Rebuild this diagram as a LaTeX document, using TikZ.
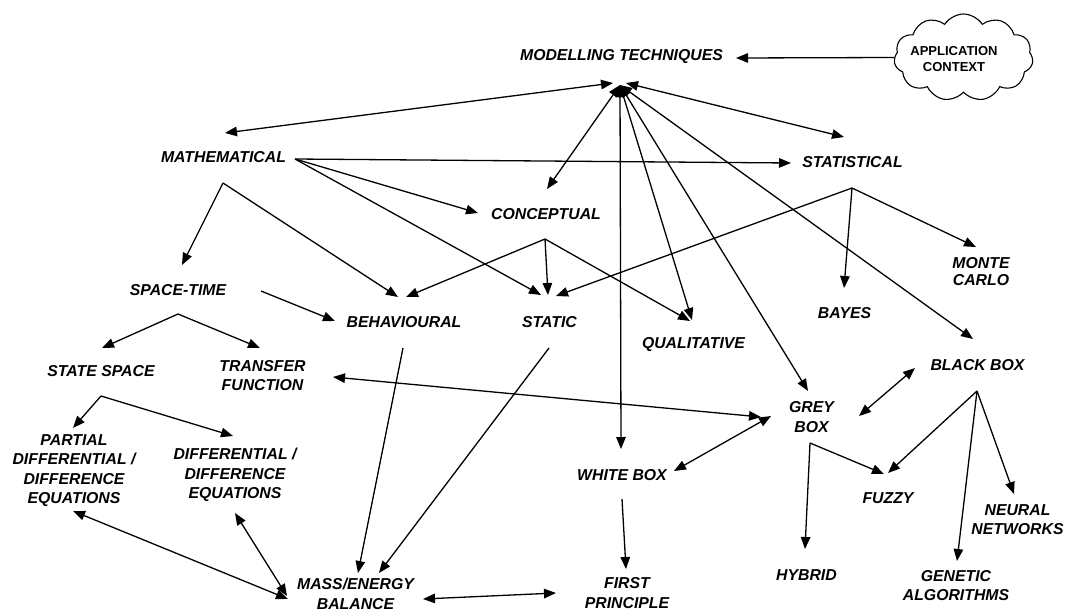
\documentclass[tikz,border=0pt]{standalone}
\usepackage{fontspec}
\setmainfont{Liberation Sans}
\usetikzlibrary{arrows.meta,shapes.symbols}

\begin{document}
\begin{tikzpicture}[x=1pt,y=-1pt,
  lbl/.style={font=\fontsize{15.8}{19.5}\selectfont\bfseries\itshape, align=center, inner sep=0pt},
  tip/.tip={Triangle[length=12pt,width=9.5pt]},
  conn/.style={line width=1.3pt, -tip},
  biconn/.style={line width=1.3pt, tip-tip}]
\useasboundingbox (0,0) rectangle (1067,613);

% ---- labels ----
\node[lbl] (mt) at (621.5,57) {MODELLING TECHNIQUES};
\node[cloud, draw, line width=1.1pt, cloud puffs=11, cloud puff arc=115,
      cloud ignores aspect, minimum width=139pt, minimum height=87pt,
      inner sep=0pt] (cloud) at (963.5,57.5) {};
\node[font=\fontsize{13}{16}\selectfont\bfseries, align=center, inner sep=0pt]
      (app) at (954,59) {APPLICATION\\CONTEXT};
\node[lbl] (math) at (223.5,157.5) {MATHEMATICAL};
\node[lbl] (stat) at (852.5,162.5) {STATISTICAL};
\node[lbl] (conc) at (546,214) {CONCEPTUAL};
\node[lbl, font=\fontsize{15.8}{17.5}\selectfont\bfseries\itshape] (monte) at (981,271.5) {MONTE\\CARLO};
\node[lbl] (space) at (178,290) {SPACE-TIME};
\node[lbl] (behav) at (404,322.5) {BEHAVIOURAL};
\node[lbl] (static) at (549.5,322.5) {STATIC};
\node[lbl] (bayes) at (844.5,313.5) {BAYES};
\node[lbl] (qual) at (693.5,345) {QUALITATIVE};
\node[lbl] (black) at (977.5,365) {BLACK BOX};
\node[lbl] (sspace) at (101,371.5) {STATE SPACE};
\node[lbl] (tf) at (262.5,375.5) {TRANSFER\\FUNCTION};
\node[lbl] (grey) at (811.5,417) {GREY\\BOX};
\node[lbl] (pde) at (74,470.5) {PARTIAL\\DIFFERENTIAL /\\DIFFERENCE\\EQUATIONS};
\node[lbl] (de) at (235,475) {DIFFERENTIAL /\\DIFFERENCE\\EQUATIONS};
\node[lbl] (white) at (622,475) {WHITE BOX};
\node[lbl] (fuzzy) at (888,498.5) {FUZZY};
\node[lbl] (neural) at (1017.5,519.5) {NEURAL\\NETWORKS};
\node[lbl] (hybrid) at (806.5,575) {HYBRID};
\node[lbl] (genetic) at (956,585.5) {GENETIC\\ALGORITHMS};
\node[lbl] (first) at (627,593) {FIRST\\PRINCIPLE};
\node[lbl] (mass) at (355.5,594) {MASS/ENERGY\\BALANCE};

% ---- connector end points ----
\coordinate (mtT) at (736,58);
\coordinate (hub) at (620,85);
\coordinate (hubL) at (613,83);
\coordinate (hubR) at (626,83);
\coordinate (mathT) at (225,133);
\coordinate (concT) at (547,189);
\coordinate (whiteT) at (621,449);
\coordinate (qualT) at (692,320);
\coordinate (qualT2) at (690,321);
\coordinate (greyT) at (808,391);
\coordinate (blackT) at (973,339);
\coordinate (statT) at (844,137);
\coordinate (mathR) at (295,159);
\coordinate (statL) at (791,163);
\coordinate (concL) at (478,213);
\coordinate (staticT1) at (541,295);
\coordinate (staticT2) at (548,295);
\coordinate (staticT3) at (556,296);
\coordinate (mathA) at (223,183);
\coordinate (spaceT) at (182,265);
\coordinate (behavT1) at (398,297);
\coordinate (behavT2) at (406,297);
\coordinate (concA) at (545,239);
\coordinate (statA) at (852,188);
\coordinate (bayesT) at (844,288);
\coordinate (monteT) at (976,247);
\coordinate (spaceR) at (261,291);
\coordinate (behavL) at (335,321);
\coordinate (spaceA) at (178,314);
\coordinate (sspaceT) at (102,348);
\coordinate (tfT) at (260,348);
\coordinate (sspaceA) at (101,396);
\coordinate (pdeT) at (73,428);
\coordinate (deT) at (233,436);
\coordinate (pdeB) at (73,511);
\coordinate (deB) at (235,513);
\coordinate (massL1) at (288,599);
\coordinate (massL2) at (287,596);
\coordinate (behavB) at (403,348);
\coordinate (staticB) at (549,348);
\coordinate (massT1) at (358,573);
\coordinate (massT2) at (379,573);
\coordinate (tfR) at (333,377);
\coordinate (greyL1) at (761,417);
\coordinate (greyL2) at (771,416);
\coordinate (whiteR) at (674,471);
\coordinate (whiteB) at (622,499);
\coordinate (firstT) at (626,569);
\coordinate (massR) at (423,599);
\coordinate (firstL) at (556,593);
\coordinate (greyR) at (859,416);
\coordinate (blackL) at (915,368);
\coordinate (greyA) at (810,443);
\coordinate (fuzzyT1) at (884,474);
\coordinate (hybridT) at (805,549);
\coordinate (blackA) at (977,391);
\coordinate (fuzzyT2) at (888,473);
\coordinate (geneticT) at (957,561);
\coordinate (neuralT) at (1014,494);

% ---- connectors ----
\draw[conn] (cloud.west) -- (mtT);

\draw[biconn] (hubL) -- (mathT);
\draw[biconn] (hub) -- (concT);
\draw[biconn] (hub) -- (whiteT);
\draw[biconn] (hub) -- (qualT);
\draw[biconn] (hub) -- (greyT);
\draw[biconn] (hub) -- (blackT);
\draw[biconn] (hubR) -- (statT);

\draw[conn] (mathR) -- (statL);
\draw[conn] (mathR) -- (concL);
\draw[conn] (mathR) -- (staticT1);
\draw[conn] (mathA) -- (spaceT);
\draw[conn] (mathA) -- (behavT1);

\draw[conn] (concA) -- (behavT2);
\draw[conn] (concA) -- (staticT2);
\draw[conn] (concA) -- (qualT2);

\draw[conn] (statA) -- (staticT3);
\draw[conn] (statA) -- (bayesT);
\draw[conn] (statA) -- (monteT);

\draw[conn] (spaceR) -- (behavL);
\draw[conn] (spaceA) -- (sspaceT);
\draw[conn] (spaceA) -- (tfT);
\draw[conn] (sspaceA) -- (pdeT);
\draw[conn] (sspaceA) -- (deT);

\draw[biconn] (pdeB) -- (massL1);
\draw[biconn] (deB) -- (massL2);
\draw[conn] (behavB) -- (massT1);
\draw[conn] (staticB) -- (massT2);

\draw[biconn] (tfR) -- (greyL1);
\draw[biconn] (whiteR) -- (greyL2);
\draw[conn] (whiteB) -- (firstT);
\draw[biconn] (massR) -- (firstL);

\draw[biconn] (greyR) -- (blackL);
\draw[conn] (greyA) -- (fuzzyT1);
\draw[conn] (greyA) -- (hybridT);
\draw[conn] (blackA) -- (fuzzyT2);
\draw[conn] (blackA) -- (geneticT);
\draw[conn] (blackA) -- (neuralT);
\end{tikzpicture}
\end{document}
